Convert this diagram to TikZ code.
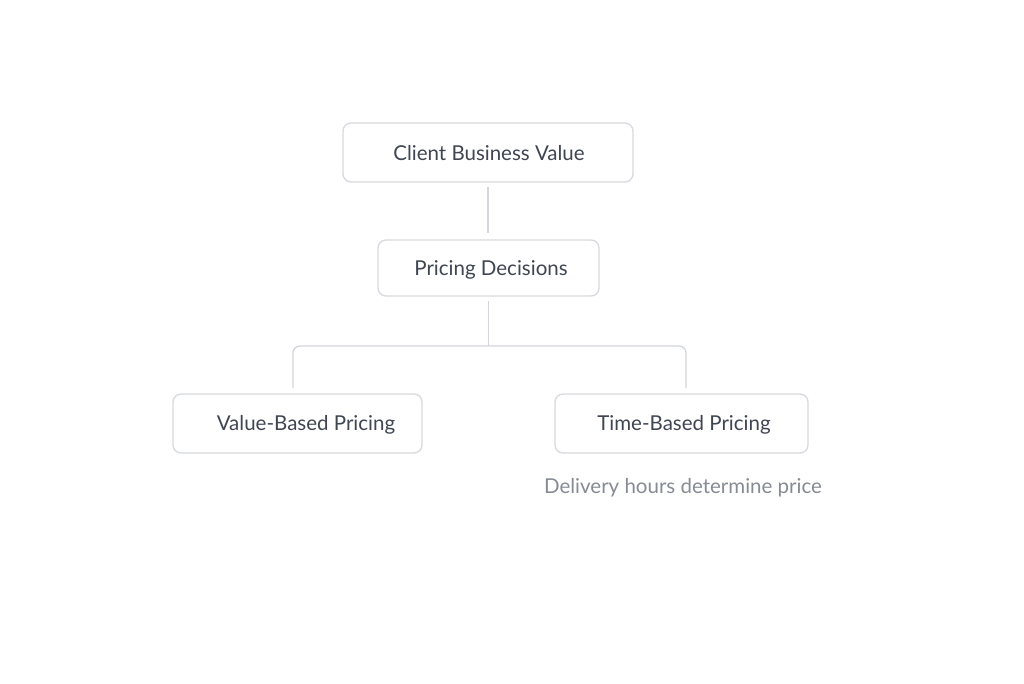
\documentclass[tikz,border=0pt]{standalone}
\usepackage{fontspec}
\setmainfont{Lato}
\definecolor{boxline}{HTML}{D6D9DD}
\definecolor{conn}{HTML}{D3D6DB}
\definecolor{txt}{HTML}{3F4652}
\definecolor{subtxt}{HTML}{868B94}
\begin{document}
\begin{tikzpicture}[x=1pt,y=-1pt,
  box/.style={draw=boxline,line width=1.3pt,rounded corners=8pt,fill=white,inner sep=0pt},
  lbl/.style={text=txt,font=\fontsize{20.5}{24}\selectfont,inner sep=0pt},
  note/.style={text=subtxt,font=\fontsize{20.5}{24}\selectfont,inner sep=0pt},
  conline/.style={draw=conn,line width=1.3pt}]
\useasboundingbox[fill=white] (0,0) rectangle (1024,683);
\node[box,minimum width=290pt,minimum height=59pt] (cbv) at (488,152.5) {};
\node[lbl] (cbvt) at (489,153.5) {Client Business Value};
\node[box,minimum width=221pt,minimum height=56pt] (pd) at (488.5,268) {};
\node[lbl] (pdt) at (491,269.5) {Pricing Decisions};
\node[box,minimum width=249pt,minimum height=59pt] (vbp) at (297.5,423.5) {};
\node[lbl] (vbpt) at (306,425) {Value-Based Pricing};
\node[box,minimum width=253pt,minimum height=59pt] (tbp) at (681.5,423.5) {};
\node[lbl] (tbpt) at (684,425) {Time-Based Pricing};
\node[note] (dh) at (683,488) {Delivery hours determine price};
\coordinate (a1) at (488,187);
\coordinate (a2) at (488,233);
\draw[conline] (a1) -- (a2);
\coordinate (b0) at (488.5,301);
\coordinate (bm) at (488.5,346);
\coordinate (bl) at (293,388);
\coordinate (br) at (686,388);
\draw[conline] (b0) -- (bm);
\draw[conline,rounded corners=7pt] (bl) -- (293,346) -- (686,346) -- (br);
\end{tikzpicture}
\end{document}
